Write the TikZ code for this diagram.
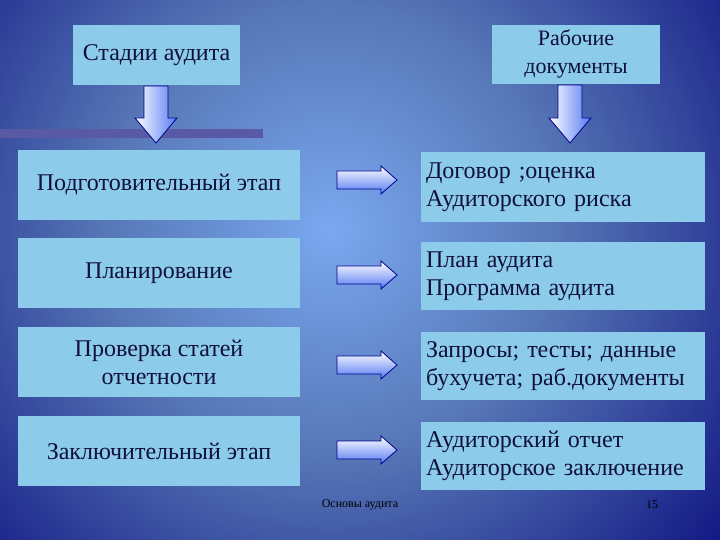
\documentclass[tikz,border=0pt]{standalone}
\usepackage{fontspec}
\setmainfont{Liberation Serif}
\definecolor{boxc}{HTML}{8CCBEA}
\definecolor{txt}{HTML}{10103A}
\definecolor{bgdark}{HTML}{050530}
\definecolor{bglight}{HTML}{7AA8F0}
\pgfdeclareradialshading{bgshade}{\pgfpoint{0bp}{0bp}}{color(0bp)=(bglight); color(8bp)=(bglight!70!bgdark); color(20bp)=(bgdark!65!blue); color(32bp)=(bgdark); color(50bp)=(bgdark)}
\tikzset{
  box/.style={fill=boxc,draw=none,text=txt,font=\fontsize{24}{28}\selectfont,inner sep=0pt},
  arr/.style={draw=blue!55!black,line width=0.8pt,top color=white,bottom color=boxc!60!blue},
  darr/.style={draw=blue!55!black,line width=0.8pt,left color=white,right color=boxc!60!blue},
}
\begin{document}
\begin{tikzpicture}[x=1pt,y=-1pt]
\useasboundingbox (0,0) rectangle (720,540);
\begin{scope}
\clip (0,0) rectangle (720,540);
\shade[shading=bgshade] (330,230) circle (700);
\end{scope}
% top boxes
\node[box,minimum width=167pt,minimum height=60pt] (st) at (156.5,55) {Стадии аудита};
\node[box,minimum width=168pt,minimum height=59pt,align=center,font=\fontsize{22}{28}\selectfont] (wd) at (576,54.5) {Рабочие\\документы};
\fill[gray!70!blue] (0,129) rectangle (263,138);
% down arrows
\path[darr] (144,86) -- (168,86) -- (168,118) -- (177,118) -- (156,143) -- (135,118) -- (144,118) -- cycle;
\path[darr] (558,85) -- (582,85) -- (582,118) -- (591,118) -- (570,143) -- (549,118) -- (558,118) -- cycle;
% left boxes
\node[box,minimum width=282pt,minimum height=70pt] (l1) at (159,185) {Подготовительный этап};
\node[box,minimum width=282pt,minimum height=70pt] (l2) at (159,273) {Планирование};
\node[box,minimum width=282pt,minimum height=70pt,align=center] (l3) at (159,362) {Проверка статей\\отчетности};
\node[box,minimum width=282pt,minimum height=70pt] (l4) at (159,451) {Заключительный этап};
% right boxes
\node[box,minimum width=284pt,minimum height=70pt,align=left,text width=274pt] (r1) at (563,187) {Договор ;оценка\\Аудиторского риска};
\node[box,minimum width=284pt,minimum height=68pt,align=left,text width=274pt] (r2) at (563,276) {План аудита\\Программа аудита};
\node[box,minimum width=284pt,minimum height=68pt,align=left,text width=274pt] (r3) at (563,366) {Запросы; тесты; данные\\бухучета; раб.документы};
\node[box,minimum width=284pt,minimum height=68pt,align=left,text width=274pt] (r4) at (563,456) {Аудиторский отчет\\Аудиторское заключение};
% right arrows
\foreach \y in {180,275,365,450}{
  \path[arr] (337,\y-9) -- (381,\y-9) -- (381,\y-14) -- (397,\y) -- (381,\y+14) -- (381,\y+9) -- (337,\y+9) -- cycle;
}
% footer
\node[text=black,font=\fontsize{12}{14}\selectfont] (ft) at (360,505) {Основы аудита};
\node[text=black,font=\fontsize{12}{14}\selectfont] (pg) at (652,505) {15};
\end{tikzpicture}
\end{document}
